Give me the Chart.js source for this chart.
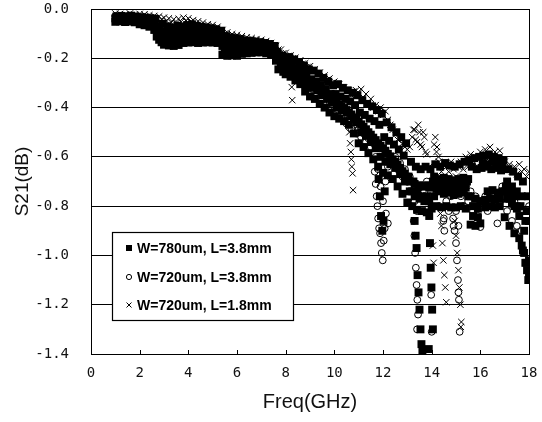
<!DOCTYPE html>
<html><head><meta charset="utf-8">
<script src="https://cdn.jsdelivr.net/npm/chart.js@4/dist/chart.umd.min.js"></script>
<style>html,body{margin:0;padding:0;background:#fff}#wrap{width:542px;height:422px}</style>
</head><body><div id="wrap"><canvas id="c" width="542" height="422"></canvas></div>
<script>
const seriesLabels = ["W=780um, L=3.8mm", "W=720um, L=3.8mm", "W=720um, L=1.8mm"];
const xTitle = "Freq(GHz)";
const yTitle = "S21(dB)";

const freqBase = [
1.0,1.1,1.2,1.3,1.4,1.5,1.6,1.7,1.8,1.9,
2.0,2.1,2.2,2.3,2.4,2.5,2.6,2.7,2.8,2.9,
3.0,3.1,3.2,3.3,3.4,3.5,3.6,3.7,3.8,3.9,
4.0,4.1,4.2,4.3,4.4,4.5,4.6,4.7,4.8,4.9,
5.0,5.1,5.2,5.3,5.4,5.5,5.6,5.7,5.8,5.9,
6.0,6.1,6.2,6.3,6.4,6.5,6.6,6.7,6.8,6.9,
7.0,7.1,7.2,7.3,7.4,7.5,7.6,7.7,7.8,7.9,
8.0,8.1,8.2,8.3,8.4,8.5,8.6,8.7,8.8,8.9,
9.0,9.1,9.2,9.3,9.4,9.5,9.6,9.7,9.8,9.9,
10.0,10.1,10.2,10.3,10.4,10.5,10.6,10.7,10.8,10.9,
11.0,11.1,11.2,11.3,11.4,11.5,11.6,11.7,11.8,11.9,
12.0,12.1,12.2,12.3,12.4,12.5,12.6,12.7,12.8,12.9,
13.0,13.1,13.2,13.3,13.4,13.5,13.6,13.7,13.8,13.9,
14.0,14.1,14.2,14.3,14.4,14.5,14.6,14.7,14.8,14.9,
15.0,15.1,15.2,15.3,15.4,15.5,15.6,15.7,15.8,15.9,
16.0,16.1,16.2,16.3,16.4,16.5,16.6,16.7,16.8,16.9,
17.0,17.1,17.2,17.3,17.4,17.5,17.6,17.7,17.8,17.9,
18.0];

const freqMid = [
1.05,1.15,1.25,1.35,1.45,1.55,1.65,1.75,1.85,1.95,
2.05,2.15,2.25,2.35,2.45,2.55,2.65,2.75,2.85,2.95,
3.05,3.15,3.25,3.35,3.45,3.55,3.65,3.75,3.85,3.95,
4.05,4.15,4.25,4.35,4.45,4.55,4.65,4.75,4.85,4.95,
5.05,5.15,5.25,5.35,5.45,5.55,5.65,5.75,5.85,5.95,
6.05,6.15,6.25,6.35,6.45,6.55,6.65,6.75,6.85,6.95,
7.05,7.15,7.25,7.35,7.45,7.55,7.65,7.75,7.85,7.95,
8.05,8.15,8.25,8.35,8.45,8.55,8.65,8.75,8.85,8.95,
9.05,9.15,9.25,9.35,9.45,9.55,9.65,9.75,9.85,9.95,
10.05,10.15,10.25,10.35,10.45,10.55,10.65,10.75,10.85,10.95,
11.05,11.15,11.25,11.35,11.45,11.55,11.65,11.75,11.85,11.95,
12.05,12.15,12.25,12.35,12.45,12.55,12.65,12.75,12.85,12.95,
13.05,13.15,13.25,13.35,13.45,13.55,13.65,13.75,13.85,13.95,
14.05,14.15,14.25,14.35,14.45,14.55,14.65,14.75,14.85,14.95,
15.05,15.15,15.25,15.35,15.45,15.55,15.65,15.75,15.85,15.95,
16.05,16.15,16.25,16.35,16.45,16.55,16.65,16.75,16.85,16.95,
17.05,17.15,17.25,17.35,17.45,17.55,17.65,17.75,17.85,17.95];

// Series 1: filled squares (W=780um, L=3.8mm) - lower, middle and upper parts of the trace band
const s1Band = [
-0.052,-0.044,-0.050,-0.040,-0.053,-0.045,-0.051,-0.042,-0.054,-0.046,
-0.062,-0.050,-0.066,-0.054,-0.072,-0.060,-0.085,-0.112,-0.125,-0.135,
-0.145,-0.120,-0.148,-0.125,-0.150,-0.118,-0.146,-0.122,-0.138,-0.112,
-0.136,-0.112,-0.135,-0.110,-0.138,-0.115,-0.136,-0.112,-0.135,-0.115,
-0.136,-0.115,-0.138,-0.118,-0.185,-0.160,-0.190,-0.165,-0.188,-0.162,
-0.190,-0.165,-0.182,-0.160,-0.180,-0.158,-0.178,-0.160,-0.176,-0.158,
-0.176,-0.160,-0.180,-0.162,-0.185,-0.170,-0.210,-0.245,-0.230,-0.255,
-0.265,-0.240,-0.275,-0.250,-0.290,-0.265,-0.305,-0.280,-0.335,-0.305,
-0.355,-0.320,-0.365,-0.330,-0.385,-0.350,-0.400,-0.365,-0.420,-0.380,
-0.435,-0.400,-0.445,-0.410,-0.455,-0.420,-0.470,-0.435,-0.505,-0.460,
-0.545,-0.500,-0.560,-0.515,-0.585,-0.540,-0.610,-0.565,-0.640,-0.600,
-0.665,-0.620,-0.675,-0.630,-0.690,-0.645,-0.720,-0.670,-0.750,-0.700,
-0.785,-0.740,-0.800,-0.760,-0.815,-0.770,-0.820,-0.780,-0.825,-0.780,
-0.810,-0.760,-0.800,-0.740,-0.805,-0.750,-0.800,-0.745,-0.805,-0.755,
-0.805,-0.750,-0.800,-0.745,-0.810,-0.760,-0.875,-0.800,-0.880,-0.810,
-0.870,-0.780,-0.805,-0.740,-0.800,-0.735,-0.805,-0.745,-0.800,-0.740,
-0.845,-0.770,-0.880,-0.790,-0.910,-0.810,-0.930,-0.960,-0.990,-1.030,
-1.080];
const s1Mid = [
-0.038,-0.042,-0.036,-0.040,-0.039,-0.043,-0.037,-0.041,-0.038,-0.042,
-0.046,-0.050,-0.048,-0.053,-0.052,-0.058,-0.062,-0.075,-0.085,-0.092,
-0.105,-0.090,-0.108,-0.095,-0.110,-0.092,-0.105,-0.095,-0.100,-0.090,
-0.100,-0.090,-0.102,-0.092,-0.105,-0.095,-0.104,-0.098,-0.106,-0.100,
-0.108,-0.100,-0.110,-0.105,-0.150,-0.140,-0.155,-0.142,-0.155,-0.145,
-0.158,-0.150,-0.155,-0.148,-0.156,-0.150,-0.155,-0.150,-0.158,-0.152,
-0.158,-0.155,-0.162,-0.160,-0.168,-0.172,-0.190,-0.205,-0.210,-0.225,
-0.225,-0.232,-0.240,-0.245,-0.255,-0.262,-0.270,-0.275,-0.285,-0.292,
-0.300,-0.305,-0.315,-0.318,-0.330,-0.335,-0.345,-0.348,-0.360,-0.362,
-0.372,-0.380,-0.388,-0.395,-0.402,-0.410,-0.420,-0.428,-0.440,-0.448,
-0.458,-0.468,-0.478,-0.488,-0.500,-0.510,-0.522,-0.532,-0.545,-0.555,
-0.565,-0.575,-0.588,-0.598,-0.610,-0.620,-0.632,-0.645,-0.658,-0.668,
-0.690,-0.700,-0.740,-0.710,-0.750,-0.715,-0.760,-0.720,-0.760,-0.725,
-0.720,-0.680,-0.730,-0.690,-0.725,-0.685,-0.730,-0.690,-0.735,-0.695,
-0.725,-0.690,-0.730,-0.685,-0.725,-0.690,-0.760,-0.840,-0.770,-0.845,
-0.780,-0.625,-0.775,-0.630,-0.770,-0.620,-0.775,-0.630,-0.770,-0.640,
-0.740,-0.700,-0.770,-0.720,-0.800,-0.740,-0.840,-0.760,-0.900,-0.820,
-0.860];
const s1Upper = [
-0.030,-0.036,-0.028,-0.038,-0.030,-0.035,-0.027,-0.037,-0.031,-0.036,
-0.033,-0.040,-0.035,-0.044,-0.037,-0.048,-0.040,-0.070,-0.095,-0.060,
-0.095,-0.070,-0.100,-0.075,-0.098,-0.068,-0.095,-0.072,-0.090,-0.065,
-0.090,-0.062,-0.092,-0.068,-0.095,-0.072,-0.092,-0.075,-0.095,-0.078,
-0.095,-0.082,-0.098,-0.088,-0.135,-0.110,-0.138,-0.115,-0.140,-0.118,
-0.140,-0.122,-0.138,-0.128,-0.140,-0.130,-0.142,-0.132,-0.145,-0.135,
-0.145,-0.138,-0.150,-0.142,-0.155,-0.150,-0.175,-0.200,-0.190,-0.215,
-0.215,-0.195,-0.225,-0.205,-0.240,-0.215,-0.250,-0.230,-0.265,-0.245,
-0.285,-0.250,-0.295,-0.262,-0.310,-0.280,-0.325,-0.295,-0.345,-0.310,
-0.345,-0.305,-0.355,-0.320,-0.365,-0.330,-0.375,-0.340,-0.390,-0.350,
-0.420,-0.370,-0.430,-0.385,-0.445,-0.395,-0.455,-0.410,-0.470,-0.425,
-0.520,-0.460,-0.535,-0.480,-0.550,-0.500,-0.570,-0.520,-0.595,-0.545,
-0.680,-0.620,-0.700,-0.640,-0.720,-0.650,-0.720,-0.640,-0.715,-0.650,
-0.700,-0.630,-0.710,-0.640,-0.705,-0.625,-0.700,-0.635,-0.710,-0.640,
-0.705,-0.630,-0.710,-0.620,-0.700,-0.615,-0.640,-0.605,-0.650,-0.600,
-0.645,-0.595,-0.640,-0.590,-0.650,-0.600,-0.645,-0.605,-0.655,-0.615,
-0.720,-0.650,-0.740,-0.660,-0.760,-0.680,-0.800,-0.700,-0.860,-0.760];
const s1DipF = [11.82,11.87,11.92,11.97,12.02,12.07,
13.30,13.34,13.38,13.42,13.46,13.50,13.54,13.58,13.62,
13.88,13.90,13.93,13.96,13.99,14.02,14.05,
17.75,17.85,17.92,17.97,18.0];
const s1DipV = [-0.69,-0.76,-0.84,-0.90,-0.86,-0.74,
-0.86,-0.92,-0.97,-1.08,-1.15,-1.22,-1.30,-1.36,-1.39,
-1.38,-0.84,-0.95,-1.05,-1.13,-1.22,-1.30,
-0.98,-1.03,-1.06,-1.10,-1.02];

// Series 2: open circles (W=720um, L=3.8mm)
const s2Band = [
-0.028,-0.040,-0.030,-0.044,-0.032,-0.042,-0.028,-0.045,-0.035,-0.040,
-0.035,-0.048,-0.038,-0.055,-0.042,-0.060,-0.050,-0.070,-0.060,-0.082,
-0.070,-0.095,-0.075,-0.100,-0.080,-0.098,-0.078,-0.092,-0.070,-0.085,
-0.068,-0.088,-0.072,-0.092,-0.078,-0.095,-0.080,-0.098,-0.085,-0.100,
-0.088,-0.104,-0.092,-0.110,-0.120,-0.140,-0.125,-0.150,-0.130,-0.145,
-0.128,-0.148,-0.125,-0.145,-0.130,-0.150,-0.128,-0.152,-0.135,-0.150,
-0.138,-0.155,-0.142,-0.160,-0.150,-0.172,-0.180,-0.200,-0.195,-0.215,
-0.215,-0.240,-0.230,-0.258,-0.245,-0.272,-0.262,-0.290,-0.280,-0.305,
-0.300,-0.325,-0.315,-0.345,-0.335,-0.365,-0.350,-0.385,-0.375,-0.405,
-0.395,-0.425,-0.415,-0.445,-0.430,-0.465,-0.450,-0.485,-0.470,-0.505,
-0.490,-0.520,-0.505,-0.540,-0.525,-0.560,-0.545,-0.600,-0.650,-0.720,
-0.780,-0.700,-0.640,-0.600,-0.625,-0.600,-0.650,-0.625,-0.680,-0.650,
-0.700,-0.680,-0.740,-0.780,-0.820,-0.760,-0.720,-0.740,-0.700,-0.760,
-0.720,-0.760,-0.700,-0.800,-0.740,-0.850,-0.780,-0.820,-0.760,-0.880,
-0.820,-0.880,-0.760,-0.800,-0.720,-0.780,-0.740,-0.820,-0.760,-0.840,
-0.885,-0.800,-0.760,-0.820,-0.740,-0.800,-0.760,-0.870,-0.780,-0.720,
-0.760,-0.820,-0.740,-0.860,-0.780,-0.880,-0.800,-0.900,-0.820,-0.860,
-0.800];
const s2DipF = [11.66,11.70,11.74,11.77,11.80,11.84,11.88,11.92,11.95,11.99,12.03,12.07,12.12,12.20,
13.26,13.29,13.32,13.35,13.38,13.41,13.44,13.40,14.00,13.98,
14.48,14.52,14.88,14.94,15.00,15.04,15.08,15.10,15.12,15.15];
const s2DipV = [-0.66,-0.71,-0.76,-0.80,-0.85,-0.89,-0.91,-0.95,-0.99,-1.02,-0.94,-0.89,-0.83,-0.87,
-0.86,-0.92,-0.99,-1.05,-1.12,-1.18,-1.24,-1.30,-1.31,-1.16,
-0.86,-0.90,-0.85,-0.90,-0.95,-1.02,-1.10,-1.15,-1.18,-1.31];

// Series 3: crosses (W=720um, L=1.8mm)
const s3Band = [
-0.018,-0.028,-0.020,-0.032,-0.022,-0.030,-0.018,-0.028,-0.024,-0.032,
-0.020,-0.030,-0.022,-0.034,-0.025,-0.036,-0.028,-0.040,-0.030,-0.042,
-0.035,-0.048,-0.038,-0.055,-0.042,-0.058,-0.040,-0.052,-0.035,-0.048,
-0.038,-0.052,-0.045,-0.060,-0.050,-0.066,-0.055,-0.070,-0.062,-0.075,
-0.065,-0.080,-0.072,-0.088,-0.085,-0.100,-0.095,-0.110,-0.102,-0.115,
-0.105,-0.118,-0.110,-0.122,-0.115,-0.128,-0.118,-0.130,-0.122,-0.132,
-0.125,-0.135,-0.130,-0.140,-0.138,-0.150,-0.150,-0.165,-0.165,-0.180,
-0.178,-0.192,-0.188,-0.200,-0.198,-0.212,-0.208,-0.222,-0.220,-0.235,
-0.232,-0.248,-0.245,-0.262,-0.258,-0.275,-0.270,-0.288,-0.282,-0.300,
-0.295,-0.312,-0.305,-0.322,-0.318,-0.335,-0.330,-0.350,-0.335,-0.330,
-0.340,-0.325,-0.360,-0.345,-0.380,-0.365,-0.400,-0.390,-0.415,-0.400,
-0.430,-0.415,-0.450,-0.470,-0.490,-0.510,-0.530,-0.520,-0.545,-0.560,
-0.570,-0.560,-0.520,-0.490,-0.540,-0.500,-0.560,-0.520,-0.590,-0.640,
-0.700,-0.550,-0.580,-0.620,-0.660,-0.700,-0.640,-0.660,-0.620,-0.650,
-0.680,-0.640,-0.620,-0.650,-0.600,-0.640,-0.590,-0.630,-0.600,-0.640,
-0.580,-0.620,-0.570,-0.610,-0.560,-0.600,-0.580,-0.620,-0.575,-0.610,
-0.620,-0.650,-0.630,-0.660,-0.640,-0.670,-0.630,-0.660,-0.650,-0.680,
-0.660];
const s3DipF = [8.25,8.27,
10.62,10.65,10.68,10.70,10.72,10.75,10.77,
13.25,13.35,13.45,13.55,13.65,13.75,
14.05,14.08,14.15,14.22,14.28,
14.36,14.40,14.44,14.48,14.52,14.56,14.60,
14.95,15.00,15.05,15.10,15.14,15.18,15.22,15.20];
const s3DipV = [-0.317,-0.37,
-0.50,-0.545,-0.58,-0.61,-0.64,-0.667,-0.735,
-0.49,-0.53,-0.47,-0.55,-0.50,-0.58,
-0.96,-1.03,-0.52,-0.56,-0.60,
-0.83,-0.88,-0.95,-1.02,-1.08,-1.13,-1.19,
-0.86,-0.92,-0.99,-1.06,-1.13,-1.20,-1.27,-1.29];

function pts(groups) {
  const out = [];
  groups.forEach(([fs, vs]) => fs.forEach((f, i) => out.push({x: f, y: vs[i]})));
  return out;
}

const framePlugin = {
  id: 'frameAndLegend',
  afterDraw(chart) {
    const ctx = chart.ctx;
    const xs = chart.scales.x;
    const ca = chart.chartArea;
    ctx.save();
    ctx.strokeStyle = '#000'; ctx.lineWidth = 1;
    xs.ticks.forEach(t => {
      const px = Math.round(xs.getPixelForValue(t.value)) + 0.5;
      ctx.beginPath(); ctx.moveTo(px, ca.bottom); ctx.lineTo(px, ca.bottom - 4); ctx.stroke();
    });
    ctx.strokeRect(Math.round(ca.left) + 0.5, Math.round(ca.top) + 0.5, Math.round(ca.right - ca.left), Math.round(ca.bottom - ca.top));
    const bx = 112, by = 232, bw = 181, bh = 88;
    ctx.fillStyle = '#fff';
    ctx.fillRect(bx, by, bw, bh);
    ctx.lineWidth = 1.2;
    ctx.strokeRect(bx + 0.5, by + 0.5, bw, bh);
    const rows = [248, 277, 305];
    ctx.font = 'bold 14px "Liberation Sans", Arial, sans-serif';
    ctx.textBaseline = 'middle';
    ctx.textAlign = 'left';
    rows.forEach((ry, i) => {
      const mx = 129;
      ctx.fillStyle = '#000'; ctx.strokeStyle = '#000'; ctx.lineWidth = 1;
      if (i === 0) { ctx.fillRect(mx - 3, ry - 3, 6, 6); }
      else if (i === 1) { ctx.beginPath(); ctx.arc(mx, ry, 2.6, 0, Math.PI * 2); ctx.stroke(); }
      else { ctx.beginPath(); ctx.moveTo(mx - 2.5, ry - 2.5); ctx.lineTo(mx + 2.5, ry + 2.5); ctx.moveTo(mx + 2.5, ry - 2.5); ctx.lineTo(mx - 2.5, ry + 2.5); ctx.stroke(); }
      ctx.fillText(chart.data.datasets[i].label, 137, ry + 1);
    });
    ctx.restore();
  }
};

new Chart(document.getElementById('c'), {
  type: 'scatter',
  data: {
    datasets: [
      {label: seriesLabels[0], data: pts([[freqBase, s1Band], [freqBase, s1Mid], [freqMid, s1Upper], [s1DipF, s1DipV]]), pointStyle: 'rect', pointRadius: 5.6, backgroundColor: '#000', borderColor: '#000', borderWidth: 0},
      {label: seriesLabels[1], data: pts([[freqBase, s2Band], [s2DipF, s2DipV]]), pointStyle: 'circle', pointRadius: 3.4, backgroundColor: 'rgba(0,0,0,0)', borderColor: '#000', borderWidth: 1},
      {label: seriesLabels[2], data: pts([[freqBase, s3Band], [s3DipF, s3DipV]]), pointStyle: 'crossRot', pointRadius: 4.5, borderColor: '#000', borderWidth: 1}
    ]
  },
  options: {
    responsive: false,
    animation: false,
    layout: {padding: {top: 9, right: 13, bottom: 0, left: 0}},
    plugins: {legend: {display: false}, tooltip: {enabled: false}},
    scales: {
      x: {
        type: 'linear', min: 0, max: 18,
        ticks: {stepSize: 2, padding: 0, color: '#111', font: {family: '"DejaVu Sans Mono", monospace', size: 14}},
        grid: {display: false, drawTicks: true, tickLength: 11},
        border: {display: true, color: '#000'},
        title: {display: true, text: xTitle, color: '#111', font: {family: '"Liberation Sans", Arial, sans-serif', size: 20}, padding: {top: 0, bottom: 8}},
        afterFit(s) { s.height = 68; }
      },
      y: {
        type: 'linear', min: -1.4, max: 0,
        ticks: {stepSize: 0.2, padding: 0, color: '#111', font: {family: '"DejaVu Sans Mono", monospace', size: 14}, callback: v => Number(v).toFixed(1)},
        grid: {color: '#000', lineWidth: 1, drawTicks: true, tickLength: 22, tickColor: 'rgba(0,0,0,0)'},
        border: {display: true, color: '#000'},
        title: {display: true, text: yTitle, color: '#111', font: {family: '"Liberation Sans", Arial, sans-serif', size: 19}, padding: {top: 11, bottom: 0}},
        afterFit(s) { s.width = 91; }
      }
    }
  },
  plugins: [framePlugin]
});
</script>
</body></html>
